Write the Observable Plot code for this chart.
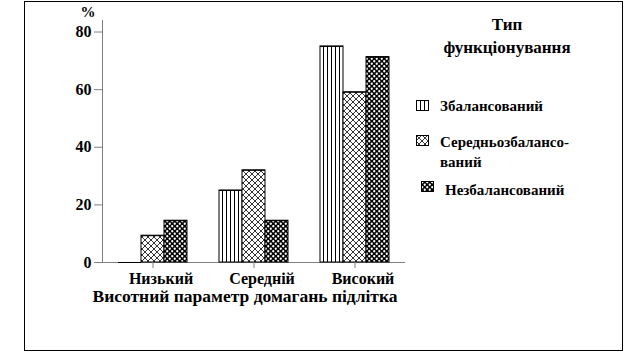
<!DOCTYPE html>
<html>
<head>
<meta charset="utf-8">
<script src="https://cdn.jsdelivr.net/npm/d3@7"></script>
<script src="https://cdn.jsdelivr.net/npm/@observablehq/plot@0.6"></script>
<style>
  body { margin: 0; background: #fff; }
  #wrap { position: relative; width: 625px; height: 357px; overflow: hidden;
          font-family: "Liberation Serif", "Times New Roman", serif; font-weight: bold; color: #000; }
  #wrap svg.plot { position: absolute; left: 0; top: 0; }
  #wrap svg.plot text { font-weight: bold; }
  .frame { position: absolute; left: 24px; top: 1px; width: 597px; height: 348px; border: 1px solid #000; }
  .t { position: absolute; white-space: nowrap; line-height: 1; }
  .c { transform: translate(-50%, -50%); }
  .l { transform: translate(0, -50%); }
  .sw { position: absolute; }
</style>
</head>
<body>
<div id="wrap">
  <div class="frame"></div>
  <svg width="0" height="0" style="position:absolute">
    <defs>
      <pattern id="pat-v" width="4" height="4" patternUnits="userSpaceOnUse">
        <rect width="4" height="4" fill="#fff"/>
        <line x1="0.5" y1="0" x2="0.5" y2="4" stroke="#000" stroke-width="1"/>
      </pattern>
      <pattern id="pat-x" width="6" height="6" patternUnits="userSpaceOnUse">
        <rect width="6" height="6" fill="#fff"/>
        <path d="M0,0L6,6M6,0L0,6" stroke="#000" stroke-width="0.8"/>
      </pattern>
      <pattern id="pat-d" width="5" height="5" patternUnits="userSpaceOnUse">
        <rect width="5" height="5" fill="#000"/>
        <circle cx="1.25" cy="1.25" r="1.15" fill="#fff"/>
        <circle cx="3.75" cy="3.75" r="1.15" fill="#fff"/>
      </pattern>
    </defs>
  </svg>
</div>
<script>
// ---- data ----
const categories = ["Низький", "Середній", "Високий"];
const series = ["Збалансований", "Середньозбалансований", "Незбалансований"];
const legendLabels = ["Збалансований", "Середньозбалансо-\nваний", "Незбалансований"];
const valuesBalanced = [0, 25, 75];
const valuesMid = [9.3, 32, 59.1];
const valuesUnbalanced = [14.5, 14.5, 71.3];
const yTicks = [0, 20, 40, 60, 80];
const yLabel = "%";
const xTitle = "Висотний параметр домагань підлітка";
const legendTitle = ["Тип", "функціонування"];
const patterns = ["url(#pat-v)", "url(#pat-x)", "url(#pat-d)"];

const seriesValues = [valuesBalanced, valuesMid, valuesUnbalanced];
const data = categories.flatMap((c, i) =>
  series.map((s, j) => ({cat: c, series: s, value: seriesValues[j][i]})));

const gray = "#808080";
const chart = Plot.plot({
  width: 625, height: 357,
  marginLeft: 101, marginRight: 220, marginTop: 20, marginBottom: 95,
  style: "font-family: 'Liberation Serif', 'Times New Roman', serif; font-weight: bold; color: #000; background: transparent;",
  fx: {domain: categories, padding: 0, label: null},
  x: {domain: series, paddingInner: 0, paddingOuter: 0.67, axis: null},
  y: {domain: [0, 84], axis: null},
  color: {domain: series, range: patterns},
  marks: [
    Plot.ruleY([0], {stroke: gray}),
    Plot.barY(data, {fx: "cat", x: "series", y: "value", fill: "series", stroke: "#000", strokeWidth: 1}),
    Plot.tickY(data, {fx: "cat", x: "series", y: "value", stroke: "#000"}),
    Plot.axisY({ticks: yTicks, tickSize: 8, tickPadding: 3, fontSize: 16, fontWeight: "bold", stroke: gray, fill: "#000", label: null}),
    Plot.axisFx({anchor: "bottom", tickSize: 6, tickFormat: () => "", stroke: gray, label: null}),
    Plot.axisFx({anchor: "bottom", tickSize: 0, tickPadding: 10, dx: 8, fontSize: 16, fontWeight: "bold", fill: "#000", label: null}),
    Plot.frame({anchor: "left", stroke: gray, facetAnchor: "left"})
  ]
});
chart.classList.add("plot");
chart.setAttribute("font-family", "'Liberation Serif', 'Times New Roman', serif");
chart.setAttribute("font-weight", "bold");
const wrap = document.getElementById("wrap");
wrap.appendChild(chart);

function addText(txt, x, y, size, cls) {
  const d = document.createElement("div");
  d.className = "t " + cls;
  d.style.left = x + "px"; d.style.top = y + "px"; d.style.fontSize = size + "px";
  d.textContent = txt;
  wrap.appendChild(d);
  return d;
}
addText(yLabel, 88, 12, 15, "c");
addText(xTitle, 245, 297, 17.5, "c");
addText(legendTitle[0], 507, 24, 17, "c");
addText(legendTitle[1], 507, 47, 17, "c");

// legend
const swPos = [[416, 100], [416, 135], [421, 181]];
const txtPos = [[440, 106], [440, 142], [445, 190]];
series.forEach((s, i) => {
  const ns = "http://www.w3.org/2000/svg";
  const svg = document.createElementNS(ns, "svg");
  svg.setAttribute("class", "sw");
  svg.setAttribute("width", 13); svg.setAttribute("height", 11);
  svg.style.left = swPos[i][0] + "px"; svg.style.top = swPos[i][1] + "px";
  const r = document.createElementNS(ns, "rect");
  r.setAttribute("x", 0.5); r.setAttribute("y", 0.5); r.setAttribute("width", 12); r.setAttribute("height", 10);
  r.setAttribute("fill", patterns[i]); r.setAttribute("stroke", "#000");
  svg.appendChild(r);
  wrap.appendChild(svg);
  legendLabels[i].split("\n").forEach((line, k) => {
    addText(line, txtPos[i][0], txtPos[i][1] + k * 20, 15, "l");
  });
});
</script>
</body>
</html>
